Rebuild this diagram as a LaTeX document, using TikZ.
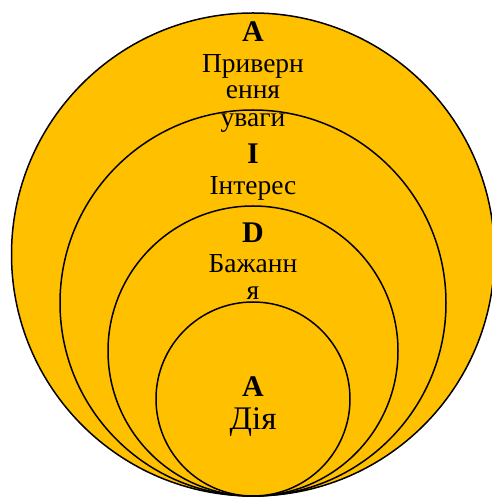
\documentclass[tikz,border=0pt]{standalone}
\usepackage{fontspec}
\setmainfont{Liberation Serif}
\usepackage{tikz}
\usetikzlibrary{positioning}
\definecolor{aidagold}{HTML}{FFC000}

\begin{document}
\begin{tikzpicture}[x=1pt,y=1pt,ring/.style={draw=black,line width=1.5pt,fill=aidagold},
  stage/.style={anchor=base,inner sep=0pt,font=\fontsize{30}{30}\selectfont\bfseries},
  word/.style={anchor=base,inner sep=0pt,font=\fontsize{27.5}{28}\selectfont}]
\useasboundingbox (0,0) rectangle (491,498);
\foreach \cy/\r in %
{243.5/241.5,195/193,147/145,99/97} {
   \draw[ring] (253,\cy) circle (\r);
}
\node[stage] (attA) at (253,456) {A};
\node[word] (att1) at (253,425) {Приверн};
\node[word] (att2) at (253,399) {ення};
\node[word] (att3) at (253,371) {уваги};
\node[stage] (intI) at (253,334) {I};
\node[word] (int1) at (253,303) {Інтерес};
\node[stage] (desD) at (253,255) {D};
\node[word] (des1) at (253,225) {Бажанн};
\node[word] (des2) at (253,198) {я};
\node[stage] (actA) at (253,101) {A};
\node[word,font=\fontsize{33}{33}\selectfont] (act1) at (253,68) {Дія};
\end{tikzpicture}
\end{document}
